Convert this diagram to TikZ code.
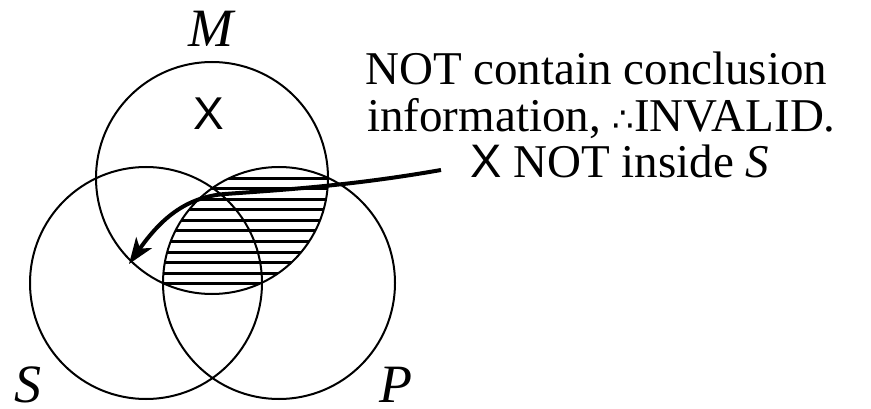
\documentclass[tikz,border=0pt]{standalone}
\usepackage{fontspec}
\setmainfont{Liberation Serif}
\newfontfamily\xfont{Liberation Sans}
\newfontfamily\symfont{DejaVu Sans}
\usetikzlibrary{arrows.meta}
\tikzstyle{setcircle} = [circle, draw, line width=2pt, minimum size=232pt, inner sep=0pt]
\tikzstyle{setlabel} = [font=\fontsize{54}{54}\selectfont\itshape, inner sep=0pt, anchor=base]
\tikzstyle{note} = [font=\fontsize{47}{47}\selectfont, inner sep=0pt, anchor=base west]
\tikzstyle{hatch} = [line width=3pt]
\tikzstyle{line} = [draw, line width=4pt, -{Stealth[length=26pt, width=19pt, inset=7pt]}]
\newcommand{\sothat}{{\symfont\fontsize{34}{34}\selectfont ∴}}

\begin{document}
\begin{tikzpicture}[x=1pt, y=-1pt]
    \useasboundingbox (0,0) rectangle (871,409);

    % shaded part: M and P
    \begin{scope}
        \clip (212,178) circle (116pt);
        \clip (279,283) circle (116pt);
        \foreach \y in {178.5,189,...,284}
            \draw[hatch] (150,\y) -- (340,\y);
    \end{scope}

    \node[setcircle] (setM) at (212,178) {};
    \node[setcircle] (setS) at (146,283) {};
    \node[setcircle] (setP) at (279,283) {};

    \node[setlabel] (labM) at (211,46.5) {M};
    \node[setlabel] (labS) at (28,402) {S};
    \node[setlabel] (labP) at (396,402) {P};
    \node[anchor=base, inner sep=0pt, font=\fontsize{46}{46}\xfont] (xmark) at (209,130) {X};

    \node[note] (line1) at (365,85) {NOT contain conclusion};
    \node[note] (line2) at (367,131.5) {information, \sothat INVALID.};
    \node[note] (line3) at (470,178) {{\xfont X} NOT inside \textit{S}};

    \coordinate (tail) at (441,170);
    \coordinate (tip) at (129,264);
    \path[line] (tail) .. controls (350,186) and (280,190) .. (225,194)
        .. controls (185,197) and (160,220) .. (tip);
\end{tikzpicture}
\end{document}
